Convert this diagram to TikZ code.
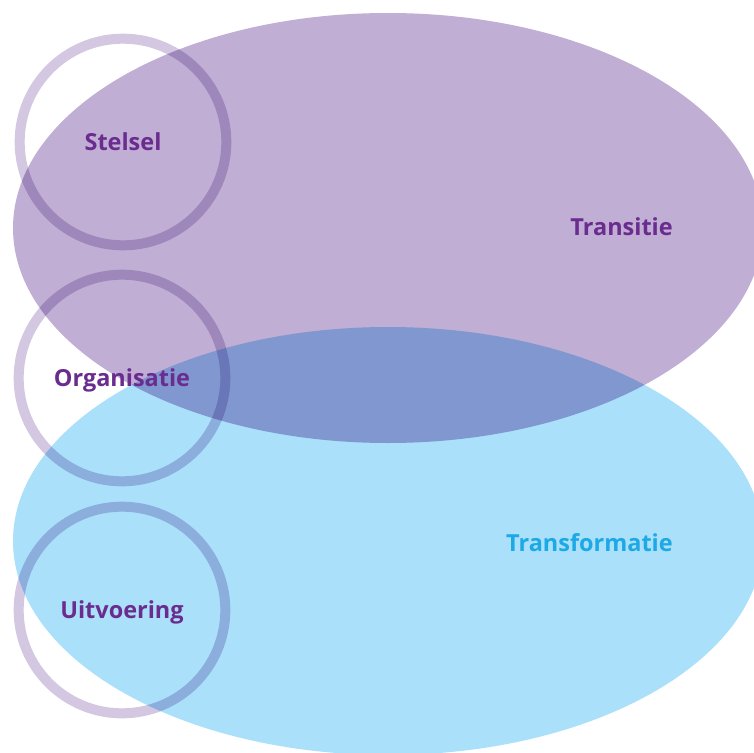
\documentclass[tikz,border=0pt]{standalone}
\usepackage{fontspec}
\setmainfont{Open Sans}
\usepackage{xcolor}
\usepackage{tikz}
\usetikzlibrary{shapes.geometric}
\usetikzlibrary{positioning}
\definecolor{purpleArea}{HTML}{C0AED4}
\definecolor{blueArea}{HTML}{AAE0FA}
\definecolor{ringPurple}{HTML}{D3C7E2}
\definecolor{textPurple}{HTML}{6A2C8F}
\definecolor{textBlue}{HTML}{1CA9E6}
\tikzset{area-node/.style={ellipse, inner sep=0, minimum width=562.5pt}}
\tikzset{purple-area/.style={area-node, fill=purpleArea, minimum height=322.5pt}}
\tikzset{blue-area/.style={area-node, fill=blueArea, minimum height=321pt}}
\tikzset{ring-node/.style={circle, draw=ringPurple, line width=7.5pt, inner sep=0, minimum size=155pt}}
\tikzset{label-text/.style={inner sep=0, anchor=base, font=\fontsize{17.6}{20}\selectfont\bfseries, text=textPurple}}

\begin{document}
\begin{tikzpicture}[x=0.75pt, y=-0.75pt]
    \clip (0,0) rectangle (754,753);
    \fill[white] (0,0) rectangle (754,753);

    \node[purple-area] (transitie-area) at (388,228) {};
    \begin{scope}[blend mode=multiply]
        \node[blue-area] (transformatie-area) at (388,541) {};

        \node[ring-node] (ring1) at (123,142) {};
        \node[ring-node] (ring2) at (122,378) {};
        \node[ring-node] (ring3) at (122,610) {};
    \end{scope}

    \node[label-text] (stelsel) at ([yshift=-6.5pt]ring1.center) {Stelsel};
    \node[label-text] (organisatie) at ([yshift=-6pt]ring2.center) {Organisatie};
    \node[label-text] (uitvoering) at ([yshift=-6pt]ring3.center) {Uitvoering};

    \node[label-text, anchor=base east] (transitie) at (673,235) {Transitie};
    \node[label-text, anchor=base east, text=textBlue] (transformatie) at (673,551) {Transformatie};
\end{tikzpicture}
\end{document}
